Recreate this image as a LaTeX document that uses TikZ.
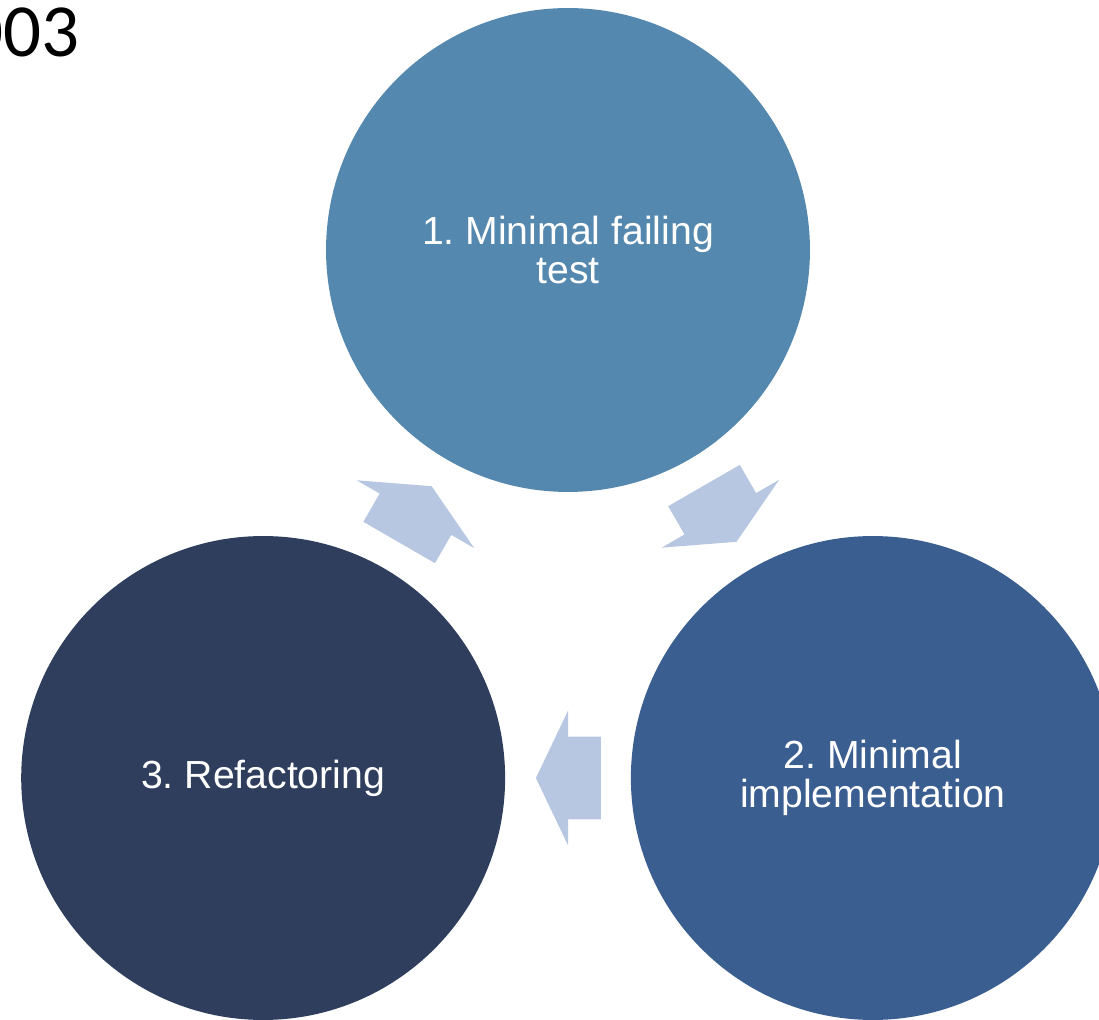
\documentclass[tikz,border=0pt]{standalone}
\usepackage{fontspec}
\setmainfont{Liberation Sans}
\newfontfamily\yearfont{Carlito}
\usepackage{tikz}
\usepackage{xcolor}
\usetikzlibrary{shapes.arrows,calc}
\definecolor{tddtest}{HTML}{5588AE}
\definecolor{tddimpl}{HTML}{3B5E91}
\definecolor{tddrefac}{HTML}{2E3E5C}
\definecolor{tddarrow}{HTML}{B7C7E2}
\tikzset{
  stepCircle/.style={circle, minimum size=9.68cm, inner sep=0pt, text=white, align=center, font=\fontsize{22.3}{22.2}\selectfont\frenchspacing},
  cycleArrow/.style={single arrow, fill=tddarrow, draw=none, inner xsep=0pt, inner ysep=0.82cm, minimum height=1.3cm, single arrow head extend=0.53cm, single arrow tip angle=129, anchor=tip},
  yearLabel/.style={font=\yearfont\fontsize{42.7}{44}\selectfont, anchor=base east, inner sep=0pt}
}

\begin{document}
\begin{tikzpicture}[x=0.02cm,y=0.02cm]
  \useasboundingbox (0,0) rectangle (1099,1019);
  \coordinate (hub) at (568,417);
  \node[yearLabel] (year) at (80,962) {003};
  \node[stepCircle, fill=tddtest] (test) at ($(hub)+(90:352)$) {1. Minimal failing\\test};
  \node[stepCircle, fill=tddimpl] (impl) at ($(hub)+(-30:352)$) {2. Minimal\\implementation};
  \node[stepCircle, fill=tddrefac] (refac) at ($(hub)+(210:352)$) {3. Refactoring};
  % each arrow is pinned by its tip, half its length ahead of the midpoint
  \foreach \ang/\rot/\nm in {30/-60/toImpl, 270/180/toRefac, 150/60/toTest} {
    \node[cycleArrow, rotate=\rot] (\nm) at ($(hub)+(\ang:176)+(\rot:32.5)$) {};
  }
\end{tikzpicture}
\end{document}
